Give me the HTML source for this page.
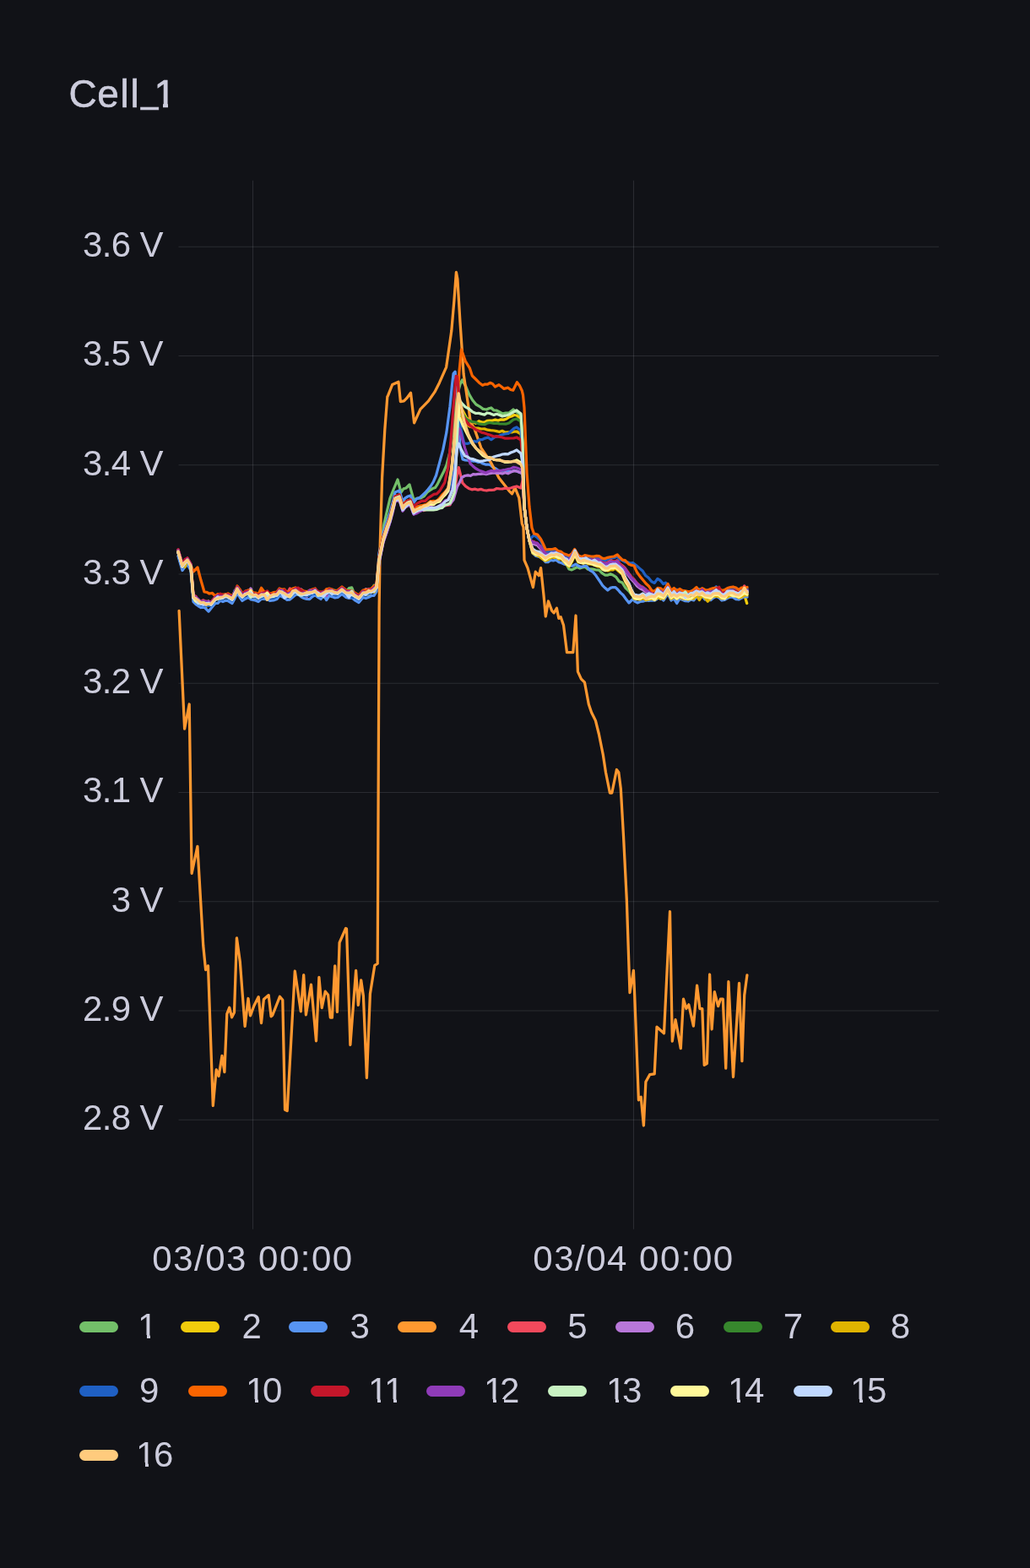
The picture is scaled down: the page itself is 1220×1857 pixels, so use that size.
<!DOCTYPE html>
<html><head><meta charset="utf-8"><title>Cell_1</title><style>
*{margin:0;padding:0;box-sizing:border-box}
html,body{width:1220px;height:1857px;background:#111217;overflow:hidden}
body{position:relative;font-family:"Liberation Sans",sans-serif;color:#ccccdc}
.t{position:absolute;white-space:nowrap;line-height:1}
#title{left:81px;top:88px;font-size:46px;width:200px;height:60px;-webkit-text-stroke:0.6px #ccccdc} #title span{position:absolute;top:0}
.yl{position:absolute;right:1027px;font-size:42px;letter-spacing:-0.6px;text-align:right;white-space:nowrap;line-height:1}
.xl{position:absolute;font-size:42px;letter-spacing:1.5px;white-space:nowrap;line-height:1;transform:translateX(-50%)}
.sw{position:absolute;width:46px;height:13px;border-radius:6.5px}
.ll{position:absolute;font-size:42px;line-height:1;white-space:nowrap}
svg{position:absolute;left:0;top:0}
.cv{position:absolute;height:4.8px;background:#111217}
</style></head>
<body>
<svg width="1220" height="1857" viewBox="0 0 1220 1857"><line x1="211.5" y1="292.25" x2="1112" y2="292.25" stroke="rgba(240,250,255,0.115)" stroke-width="1.15"/><line x1="211.5" y1="421.50" x2="1112" y2="421.50" stroke="rgba(240,250,255,0.115)" stroke-width="1.15"/><line x1="211.5" y1="550.75" x2="1112" y2="550.75" stroke="rgba(240,250,255,0.115)" stroke-width="1.15"/><line x1="211.5" y1="680.00" x2="1112" y2="680.00" stroke="rgba(240,250,255,0.115)" stroke-width="1.15"/><line x1="211.5" y1="809.25" x2="1112" y2="809.25" stroke="rgba(240,250,255,0.115)" stroke-width="1.15"/><line x1="211.5" y1="938.50" x2="1112" y2="938.50" stroke="rgba(240,250,255,0.115)" stroke-width="1.15"/><line x1="211.5" y1="1067.75" x2="1112" y2="1067.75" stroke="rgba(240,250,255,0.115)" stroke-width="1.15"/><line x1="211.5" y1="1197.00" x2="1112" y2="1197.00" stroke="rgba(240,250,255,0.115)" stroke-width="1.15"/><line x1="211.5" y1="1326.25" x2="1112" y2="1326.25" stroke="rgba(240,250,255,0.115)" stroke-width="1.15"/><line x1="299.5" y1="213.7" x2="299.5" y2="1455.7" stroke="rgba(240,250,255,0.115)" stroke-width="1.15"/><line x1="750.5" y1="213.7" x2="750.5" y2="1455.7" stroke="rgba(240,250,255,0.115)" stroke-width="1.15"/><g fill="none" stroke-width="3.25" stroke-linejoin="round" stroke-linecap="round">
<path stroke="#73BF69" d="M211.0 652.0 L216.0 669.0 L219.0 664.1 L222.0 662.0 L226.0 669.0 L229.0 706.0 L232.0 708.7 L235.0 712.6 L238.0 713.0 L241.0 713.1 L244.0 712.2 L247.0 713.2 L250.0 714.0 L255.0 708.0 L258.0 707.6 L261.0 705.6 L264.0 706.0 L267.0 704.2 L270.0 705.0 L275.0 708.0 L278.0 700.6 L281.0 696.0 L284.0 702.2 L287.0 705.0 L290.5 702.1 L294.0 701.0 L297.0 701.1 L300.0 704.0 L303.0 704.5 L306.0 706.0 L309.5 700.6 L313.0 703.0 L316.5 707.3 L320.0 705.0 L324.0 704.6 L328.0 703.0 L331.0 699.0 L334.0 699.5 L337.0 699.6 L340.0 704.0 L343.3 702.5 L346.7 701.4 L350.0 698.0 L353.3 702.0 L356.7 700.3 L360.0 702.0 L363.3 700.9 L366.7 701.1 L370.0 700.0 L373.3 700.4 L376.7 702.0 L380.0 703.0 L383.3 707.4 L386.7 700.1 L390.0 699.0 L393.3 701.4 L396.7 699.2 L400.0 701.0 L405.0 697.0 L410.0 701.0 L413.3 696.7 L416.7 695.9 L420.0 704.0 L425.0 707.0 L430.0 701.0 L433.3 700.5 L436.7 701.0 L440.0 699.0 L443.0 693.2 L446.0 694.0 L449.0 660.0 L452.0 640.0 L455.0 620.0 L458.5 605.0 L462.0 590.0 L466.0 580.0 L471.0 568.0 L475.0 583.0 L478.0 578.9 L481.0 578.0 L485.0 574.0 L490.0 592.0 L494.0 590.1 L498.0 590.0 L502.0 587.9 L506.0 583.0 L509.2 580.6 L512.4 578.6 L515.6 577.4 L518.2 573.4 L520.7 568.2 L525.8 558.0 L528.9 550.8 L533.0 535.0 L537.0 505.0 L541.0 470.0 L545.0 455.0 L547.5 450.0 L551.6 457.5 L555.7 467.2 L559.8 474.0 L563.9 479.0 L568.0 481.3 L572.1 484.4 L576.3 485.0 L579.0 483.8 L581.8 483.0 L585.0 486.0 L588.3 486.1 L591.7 488.0 L595.0 490.0 L599.0 489.1 L603.0 489.0 L608.0 485.0 L612.0 488.0 L617.0 492.0 L619.0 526.0 L621.0 600.0 L624.0 625.0 L627.0 640.0 L631.0 652.0 L634.8 654.9 L638.5 655.2 L642.2 657.1 L646.0 661.0 L649.5 659.8 L653.0 657.0 L656.0 656.2 L659.0 656.9 L662.0 658.6 L665.0 660.0 L668.5 665.7 L672.0 670.0 L674.0 674.0 L677.2 674.9 L680.4 673.2 L683.6 671.5 L686.8 673.0 L690.0 672.0 L693.2 671.3 L696.4 674.2 L699.6 673.8 L702.8 674.1 L706.0 675.0 L709.5 675.1 L713.0 678.6 L716.5 681.0 L720.0 681.0 L723.0 679.7 L726.0 681.0 L729.7 683.4 L733.3 688.5 L737.0 690.0 L741.0 696.3 L745.0 700.0 L748.0 704.1 L751.0 706.0 L754.5 706.7 L758.0 707.0 L761.5 707.1 L765.0 709.1 L768.5 706.3 L772.0 706.0 L775.5 706.1 L779.0 703.7 L782.5 704.7 L786.0 706.0 L791.0 698.0 L795.0 706.0 L798.3 702.4 L801.7 706.7 L805.0 704.0 L808.3 704.5 L811.7 704.8 L815.0 707.0 L818.3 708.9 L821.7 704.4 L825.0 702.0 L828.3 699.0 L831.7 702.0 L835.0 705.0 L838.3 703.0 L841.7 707.5 L845.0 703.0 L848.3 702.0 L851.7 702.0 L855.0 706.0 L858.3 706.9 L861.7 704.3 L865.0 702.0 L868.3 703.0 L871.7 703.5 L875.0 705.0 L878.3 703.6 L881.7 700.9 L885.0 702.0"/>
<path stroke="#F2CC0C" d="M211.0 653.0 L216.0 670.0 L219.0 668.6 L222.0 663.0 L226.0 670.0 L229.0 707.0 L232.0 708.3 L235.0 712.9 L238.0 714.0 L241.0 715.3 L244.0 718.8 L247.0 713.4 L250.0 715.0 L255.0 709.0 L258.0 705.6 L261.0 706.2 L264.0 707.0 L267.0 706.7 L270.0 706.0 L275.0 709.0 L278.0 703.8 L281.0 697.0 L284.0 702.7 L287.0 706.0 L290.5 704.2 L294.0 702.0 L297.0 701.4 L300.0 705.0 L303.0 710.2 L306.0 707.0 L309.5 703.6 L313.0 704.0 L316.5 704.1 L320.0 706.0 L324.0 706.3 L328.0 704.0 L331.0 700.0 L334.0 700.6 L337.0 702.7 L340.0 705.0 L343.3 704.0 L346.7 702.1 L350.0 699.0 L353.3 702.3 L356.7 703.3 L360.0 703.0 L363.3 703.4 L366.7 701.4 L370.0 701.0 L373.3 698.6 L376.7 702.0 L380.0 704.0 L383.3 706.5 L386.7 700.8 L390.0 700.0 L393.3 699.2 L396.7 703.3 L400.0 702.0 L405.0 698.0 L410.0 702.0 L413.3 706.5 L416.7 701.5 L420.0 705.0 L425.0 708.0 L430.0 702.0 L433.3 703.1 L436.7 704.8 L440.0 700.0 L443.0 699.4 L446.0 695.0 L449.0 661.0 L454.0 637.0 L458.0 624.3 L462.0 613.0 L465.0 602.5 L468.0 589.0 L473.0 587.0 L477.0 600.0 L480.0 597.2 L483.0 594.0 L486.0 593.0 L490.0 604.0 L494.0 602.2 L498.0 600.0 L502.0 599.3 L506.0 597.0 L509.7 594.0 L513.4 595.7 L517.0 593.2 L520.7 592.0 L524.1 586.8 L527.5 583.1 L530.9 580.0 L535.0 556.0 L538.5 520.0 L541.5 485.0 L543.5 472.0 L547.0 484.0 L552.0 494.0 L556.0 498.3 L560.0 500.0 L563.6 501.3 L567.2 498.7 L570.8 500.0 L573.9 500.2 L576.9 498.3 L580.0 498.0 L583.3 498.0 L586.7 497.1 L590.0 498.0 L593.3 496.9 L596.7 497.1 L600.0 496.0 L603.0 493.9 L606.0 493.0 L609.0 491.5 L612.0 492.0 L617.0 496.0 L619.0 528.0 L621.0 600.0 L624.0 625.0 L627.0 640.0 L631.0 654.0 L634.8 654.9 L638.5 656.5 L642.2 659.1 L646.0 663.0 L649.5 660.4 L653.0 659.0 L656.0 659.7 L659.0 660.0 L662.0 661.2 L665.0 661.0 L668.0 664.3 L671.0 667.5 L674.0 670.0 L677.5 663.3 L681.0 656.0 L685.0 665.0 L688.0 665.8 L691.0 665.9 L694.0 664.6 L697.0 667.0 L700.7 667.4 L704.3 668.3 L708.0 670.0 L711.0 669.6 L714.0 672.8 L717.0 674.4 L720.0 675.0 L723.0 674.2 L726.0 672.6 L729.0 672.0 L733.0 675.2 L737.0 679.0 L741.0 686.8 L745.0 695.0 L748.0 702.6 L751.0 708.0 L754.5 709.5 L758.0 709.0 L761.5 706.9 L765.0 711.2 L768.5 707.9 L772.0 708.0 L775.5 710.0 L779.0 704.9 L782.5 709.4 L786.0 708.0 L791.0 700.0 L795.0 708.0 L798.3 706.4 L801.7 706.7 L805.0 706.0 L808.3 707.5 L811.7 706.4 L815.0 709.0 L818.3 707.0 L821.7 706.1 L825.0 704.0 L828.3 704.7 L831.7 704.5 L835.0 707.0 L838.3 705.9 L841.7 706.3 L845.0 705.0 L848.3 702.5 L851.7 703.8 L855.0 708.0 L858.3 708.8 L861.7 704.8 L865.0 704.0 L868.3 704.3 L871.7 705.3 L875.0 707.0 L878.2 705.0 L881.5 704.0 L884.7 714.5"/>
<path stroke="#5794F2" d="M211.0 658.5 L216.0 675.5 L219.0 671.3 L222.0 668.5 L226.0 675.5 L229.0 712.5 L232.0 715.6 L235.0 717.8 L238.0 719.5 L241.0 718.2 L244.0 721.1 L247.0 724.1 L250.0 720.5 L255.0 714.5 L258.0 714.4 L261.0 711.2 L264.0 712.5 L267.0 711.2 L270.0 711.5 L275.0 714.5 L278.0 708.9 L281.0 702.5 L284.0 707.2 L287.0 711.5 L290.5 709.2 L294.0 707.5 L297.0 709.8 L300.0 710.5 L303.0 711.2 L306.0 712.5 L309.5 709.4 L313.0 709.5 L316.5 709.8 L320.0 711.5 L324.0 711.0 L328.0 709.5 L331.0 705.5 L334.0 706.5 L337.0 708.3 L340.0 710.5 L343.3 710.1 L346.7 707.3 L350.0 704.5 L353.3 704.0 L356.7 706.7 L360.0 708.5 L363.3 709.5 L366.7 709.6 L370.0 706.5 L373.3 704.7 L376.7 707.4 L380.0 709.5 L383.3 704.7 L386.7 710.6 L390.0 705.5 L393.3 706.6 L396.7 707.9 L400.0 707.5 L405.0 703.5 L410.0 707.5 L413.3 708.5 L416.7 707.8 L420.0 710.5 L425.0 713.5 L430.0 707.5 L433.3 708.5 L436.7 707.2 L440.0 705.5 L443.0 705.4 L446.0 700.5 L449.0 655.0 L454.0 631.0 L458.0 618.6 L462.0 607.0 L465.0 595.5 L468.0 583.0 L473.0 581.0 L477.0 594.0 L480.0 589.8 L483.0 588.0 L486.0 587.0 L490.0 595.0 L493.4 590.8 L496.8 589.6 L500.2 586.6 L503.6 583.5 L507.1 579.5 L510.5 575.3 L513.5 570.2 L516.6 563.0 L520.7 547.7 L524.8 532.4 L528.9 511.9 L533.0 481.2 L535.5 455.6 L537.1 442.3 L539.1 440.2 L541.0 460.0 L543.0 500.0 L545.0 530.0 L548.0 544.0 L551.0 544.9 L554.0 545.1 L557.0 545.8 L560.0 546.0 L563.0 546.0 L566.0 547.4 L569.0 547.4 L572.0 549.0 L575.0 550.0 L578.0 550.0 L581.0 550.7 L584.0 553.5 L587.0 554.7 L590.0 557.0 L593.3 557.8 L596.7 557.0 L600.0 558.0 L603.0 558.0 L606.0 558.6 L609.0 557.2 L612.0 558.0 L617.0 560.0 L619.0 560.0 L621.0 600.0 L624.0 625.0 L627.0 640.0 L631.0 655.0 L634.8 658.5 L638.6 659.4 L642.5 661.4 L646.3 665.7 L649.1 665.6 L652.0 663.4 L655.3 664.0 L658.7 663.2 L662.0 665.8 L665.3 666.8 L668.6 668.2 L672.0 669.0 L675.3 670.0 L678.6 670.0 L682.0 668.1 L685.3 670.3 L688.4 671.5 L691.4 670.5 L694.5 670.3 L698.3 675.1 L702.2 677.3 L706.0 681.8 L710.6 688.7 L713.7 693.4 L716.7 696.3 L719.8 699.0 L722.9 696.4 L725.9 695.5 L729.0 695.6 L732.0 698.5 L735.1 702.1 L738.1 704.8 L741.5 709.5 L745.0 714.0 L749.5 709.7 L752.2 712.4 L755.0 713.9 L758.3 712.4 L761.5 712.2 L764.8 711.0 L768.4 711.5 L772.0 711.0 L775.5 711.1 L779.0 708.8 L782.5 707.8 L786.0 711.0 L791.0 703.0 L795.0 711.0 L798.3 708.8 L801.7 714.5 L805.0 709.0 L808.3 710.2 L811.7 711.7 L815.0 712.0 L818.3 710.0 L821.7 710.9 L825.0 707.0 L828.3 707.3 L831.7 706.0 L835.0 710.0 L838.3 709.9 L841.7 710.7 L845.0 708.0 L848.3 706.2 L851.7 707.8 L855.0 711.0 L858.3 710.4 L861.7 708.3 L865.0 707.0 L868.3 707.4 L871.7 709.7 L875.0 710.0 L878.3 708.4 L881.7 706.3 L885.0 707.0"/>
<path stroke="#FF9830" d="M212.1 723.4 L218.6 863.2 L224.2 834.0 L227.1 1034.3 L233.9 1002.3 L240.7 1119.5 L243.6 1148.6 L246.5 1143.8 L252.3 1309.5 L256.2 1266.8 L259.1 1274.6 L263.0 1250.3 L265.9 1269.7 L268.8 1200.9 L271.7 1193.2 L274.6 1204.8 L277.5 1199.0 L280.4 1110.8 L284.3 1138.9 L290.1 1215.5 L294.0 1182.5 L296.5 1202.9 L300.8 1191.2 L306.2 1180.6 L309.5 1211.6 L312.4 1183.5 L318.2 1178.6 L321.1 1203.8 L322.7 1202.5 L331.4 1180.3 L334.8 1184.3 L337.5 1314.2 L340.2 1315.5 L349.3 1150.0 L356.3 1197.8 L359.7 1154.7 L362.4 1201.8 L368.5 1166.1 L374.5 1232.8 L377.9 1157.4 L381.2 1193.7 L385.3 1174.2 L388.6 1178.2 L391.3 1205.2 L393.4 1205.2 L396.7 1143.9 L399.4 1198.4 L402.1 1116.3 L409.5 1099.5 L410.5 1100.0 L414.9 1237.5 L421.6 1149.3 L424.3 1190.4 L427.7 1160.8 L430.4 1179.6 L434.4 1276.5 L438.4 1176.9 L443.8 1143.3 L447.2 1141.2 L448.3 900.0 L449.1 720.0 L450.2 646.0 L452.6 565.4 L455.8 508.9 L458.8 470.0 L459.9 467.7 L464.7 455.5 L472.0 452.3 L474.4 475.7 L478.5 474.9 L481.7 471.7 L486.5 465.2 L490.6 500.8 L497.9 484.6 L501.9 480.6 L507.5 474.9 L514.8 464.4 L520.5 453.2 L528.6 434.8 L530.7 420.5 L534.8 391.8 L537.9 356.0 L540.4 322.3 L541.9 330.5 L545.0 381.6 L547.1 412.3 L549.1 443.0 L552.2 463.5 L555.2 484.0 L557.3 500.0 L561.5 506.6 L569.8 530.3 L581.6 548.0 L591.0 565.9 L603.0 581.3 L606.5 584.8 L610.0 577.7 L614.8 589.6 L618.3 620.0 L620.0 624.4 L621.0 663.4 L625.0 672.6 L631.4 695.6 L634.3 677.2 L638.3 681.8 L640.6 672.6 L644.0 704.8 L646.3 730.0 L649.5 712.0 L653.7 723.4 L656.1 725.8 L659.4 720.2 L661.8 732.3 L664.2 730.7 L667.5 740.4 L671.5 772.7 L678.8 772.7 L682.0 729.0 L684.4 795.3 L688.4 804.1 L692.5 808.2 L697.3 834.0 L700.6 843.7 L705.4 853.4 L709.4 869.5 L714.3 893.8 L717.5 914.8 L722.4 939.0 L724.8 939.0 L730.4 911.5 L732.8 914.8 L735.3 934.1 L738.5 990.0 L742.3 1065.4 L746.0 1175.6 L750.4 1149.3 L751.7 1178.5 L756.4 1302.8 L759.2 1299.1 L762.4 1333.0 L764.9 1281.2 L769.6 1272.7 L775.2 1271.8 L778.0 1216.2 L786.5 1223.7 L793.5 1079.5 L796.3 1233.1 L800.1 1207.7 L806.3 1241.6 L809.5 1183.2 L812.9 1194.5 L815.8 1189.8 L821.4 1215.2 L825.6 1167.2 L828.9 1194.5 L831.8 1194.5 L834.2 1261.4 L837.4 1259.5 L840.6 1154.0 L843.1 1219.0 L846.3 1174.7 L850.6 1191.7 L853.4 1183.2 L856.3 1183.2 L859.7 1265.2 L862.9 1162.5 L868.5 1275.5 L875.5 1164.3 L878.9 1256.7 L881.7 1178.5 L884.9 1154.9"/>
<path stroke="#F2495C" d="M211.0 651.0 L216.0 668.0 L219.0 666.6 L222.0 661.0 L226.0 668.0 L229.0 705.0 L232.0 706.3 L235.0 711.4 L238.0 712.0 L241.0 710.8 L244.0 712.6 L247.0 712.5 L250.0 713.0 L255.0 707.0 L258.0 706.4 L261.0 704.5 L264.0 705.0 L267.0 703.9 L270.0 704.0 L275.0 707.0 L278.0 700.8 L281.0 695.0 L284.0 699.6 L287.0 704.0 L290.5 700.0 L294.0 700.0 L297.0 701.1 L300.0 703.0 L303.0 704.0 L306.0 705.0 L309.5 701.3 L313.0 702.0 L316.5 704.0 L320.0 704.0 L324.0 701.9 L328.0 702.0 L331.0 698.0 L334.0 699.3 L337.0 701.6 L340.0 703.0 L343.3 696.9 L346.7 699.5 L350.0 697.0 L353.3 699.5 L356.7 699.4 L360.0 701.0 L363.3 702.6 L366.7 699.0 L370.0 699.0 L373.3 698.5 L376.7 701.7 L380.0 702.0 L383.3 702.9 L386.7 697.8 L390.0 698.0 L393.3 699.5 L396.7 701.3 L400.0 700.0 L405.0 696.0 L410.0 700.0 L413.3 700.1 L416.7 701.2 L420.0 703.0 L425.0 706.0 L430.0 700.0 L433.3 698.9 L436.7 697.7 L440.0 698.0 L443.0 697.6 L446.0 693.0 L449.0 665.0 L454.0 641.0 L458.0 629.1 L462.0 617.0 L465.0 606.0 L468.0 593.0 L473.0 591.0 L477.0 604.0 L480.0 600.3 L483.0 598.0 L486.0 597.0 L490.0 608.0 L494.0 606.0 L498.0 604.0 L502.0 604.6 L506.0 603.0 L509.7 601.1 L513.4 602.7 L517.0 602.0 L520.7 600.0 L523.8 599.5 L526.9 598.9 L529.9 598.4 L533.0 598.0 L538.0 585.0 L541.0 565.0 L543.3 553.6 L547.9 572.0 L551.5 575.9 L555.2 578.4 L558.9 579.8 L562.5 579.1 L566.2 580.2 L569.6 579.4 L572.9 580.5 L576.3 581.0 L579.2 580.3 L582.1 580.3 L585.0 580.2 L588.3 578.5 L591.7 578.8 L595.0 579.0 L598.3 578.1 L601.7 578.7 L605.0 578.0 L608.5 576.9 L612.0 576.0 L617.0 578.0 L619.0 569.0 L621.0 600.0 L624.0 625.0 L627.0 640.0 L629.8 641.1 L632.5 641.5 L636.5 644.5 L640.6 647.3 L643.5 650.7 L646.3 655.5 L650.3 655.5 L654.3 653.6 L657.8 652.9 L661.2 655.0 L664.7 656.0 L667.8 657.8 L670.8 661.2 L673.9 662.6 L677.3 658.8 L680.7 652.4 L685.3 660.4 L689.0 662.4 L692.6 659.7 L696.3 661.3 L700.0 662.2 L703.3 662.5 L706.6 663.4 L709.9 663.1 L713.2 665.3 L716.5 667.6 L719.8 666.1 L723.6 663.5 L727.4 665.3 L731.2 663.8 L734.3 667.7 L737.3 670.0 L740.4 672.8 L745.0 679.5 L748.0 683.5 L751.0 686.3 L754.5 690.7 L758.0 693.7 L761.5 695.5 L765.0 698.1 L768.5 701.4 L772.0 702.5 L775.5 704.3 L779.0 700.7 L782.5 701.3 L786.0 702.5 L791.0 694.5 L795.0 702.5 L798.3 699.1 L801.7 701.2 L805.0 700.5 L808.3 701.6 L811.7 701.6 L815.0 703.5 L818.3 701.5 L821.7 702.2 L825.0 698.5 L828.3 699.7 L831.7 698.6 L835.0 701.5 L838.3 700.6 L841.7 700.2 L845.0 699.5 L848.3 697.0 L851.7 699.7 L855.0 702.5 L858.3 703.2 L861.7 700.8 L865.0 698.5 L868.3 698.2 L871.7 700.0 L875.0 701.5 L878.3 699.9 L881.7 693.9 L885.0 698.5"/>
<path stroke="#B877D9" d="M211.0 652.0 L216.0 669.0 L219.0 666.0 L222.0 662.0 L226.0 669.0 L229.0 706.0 L232.0 709.2 L235.0 712.4 L238.0 713.0 L241.0 714.8 L244.0 713.3 L247.0 712.1 L250.0 714.0 L255.0 708.0 L258.0 706.7 L261.0 704.4 L264.0 706.0 L267.0 706.0 L270.0 705.0 L275.0 708.0 L278.0 700.4 L281.0 696.0 L284.0 700.7 L287.0 705.0 L290.5 701.0 L294.0 701.0 L297.0 697.0 L300.0 704.0 L303.0 703.4 L306.0 706.0 L309.5 702.1 L313.0 703.0 L316.5 703.0 L320.0 705.0 L324.0 704.2 L328.0 703.0 L331.0 699.0 L334.0 699.1 L337.0 702.2 L340.0 704.0 L343.3 702.8 L346.7 701.5 L350.0 698.0 L353.3 699.6 L356.7 697.9 L360.0 702.0 L363.3 706.8 L366.7 699.7 L370.0 700.0 L373.3 699.8 L376.7 702.4 L380.0 703.0 L383.3 701.3 L386.7 705.6 L390.0 699.0 L393.3 701.0 L396.7 702.2 L400.0 701.0 L405.0 697.0 L410.0 701.0 L413.3 701.7 L416.7 702.4 L420.0 704.0 L425.0 707.0 L430.0 701.0 L433.3 697.7 L436.7 699.3 L440.0 699.0 L443.0 697.0 L446.0 694.0 L449.0 666.0 L454.0 642.0 L458.0 631.0 L462.0 618.0 L465.0 605.4 L468.0 594.0 L473.0 592.0 L477.0 605.0 L480.0 600.9 L483.0 599.0 L486.0 598.0 L490.0 609.0 L494.0 607.0 L498.0 605.0 L502.0 603.6 L506.0 602.0 L509.7 599.6 L513.4 601.6 L517.0 600.8 L520.7 600.0 L523.8 599.5 L526.9 598.9 L529.9 597.4 L533.0 597.0 L537.0 592.0 L541.5 576.5 L544.2 571.7 L547.0 565.5 L550.6 563.5 L554.3 562.8 L557.4 563.5 L560.4 561.6 L563.5 561.9 L566.5 561.4 L569.6 561.4 L572.6 561.0 L575.7 561.7 L578.8 560.9 L581.9 560.3 L585.0 560.0 L588.3 560.4 L591.7 560.1 L595.0 561.0 L598.3 559.8 L601.7 560.8 L605.0 559.0 L608.5 557.7 L612.0 558.0 L617.0 560.0 L619.0 560.0 L621.0 600.0 L624.0 625.0 L627.0 640.0 L629.8 643.0 L632.5 644.5 L636.5 645.8 L640.6 650.3 L643.5 653.9 L646.3 658.5 L650.3 657.7 L654.3 656.6 L657.8 655.4 L661.2 657.0 L664.7 659.0 L667.8 661.6 L670.8 662.6 L673.9 665.6 L677.3 660.6 L680.7 655.4 L685.3 663.4 L689.0 663.4 L692.6 664.8 L696.3 665.1 L700.0 665.2 L703.3 665.3 L706.6 664.7 L709.9 666.9 L713.2 669.4 L716.5 668.7 L719.8 669.1 L723.6 667.5 L727.4 666.6 L731.2 666.8 L734.3 670.9 L737.3 673.8 L740.4 675.8 L745.0 682.5 L748.0 686.1 L751.0 689.3 L754.5 693.9 L758.0 696.7 L761.5 698.5 L765.0 701.1 L768.5 702.6 L772.0 705.5 L775.5 706.2 L779.0 704.2 L782.5 702.0 L786.0 705.5 L791.0 697.5 L795.0 705.5 L798.3 704.1 L801.7 705.1 L805.0 703.5 L808.3 706.3 L811.7 701.6 L815.0 706.5 L818.3 708.3 L821.7 705.3 L825.0 701.5 L828.3 703.4 L831.7 702.6 L835.0 704.5 L838.3 702.3 L841.7 703.4 L845.0 702.5 L848.3 700.1 L851.7 698.0 L855.0 705.5 L858.3 705.0 L861.7 702.8 L865.0 701.5 L868.3 701.5 L871.7 704.3 L875.0 704.5 L878.3 701.3 L881.7 699.9 L885.0 701.5"/>
<path stroke="#37872D" d="M211.0 653.0 L216.0 670.0 L219.0 666.3 L222.0 663.0 L226.0 670.0 L229.0 707.0 L232.0 710.4 L235.0 711.1 L238.0 714.0 L241.0 714.2 L244.0 713.3 L247.0 714.0 L250.0 715.0 L255.0 709.0 L258.0 706.2 L261.0 707.9 L264.0 707.0 L267.0 706.8 L270.0 706.0 L275.0 709.0 L278.0 702.0 L281.0 697.0 L284.0 702.9 L287.0 706.0 L290.5 703.3 L294.0 702.0 L297.0 702.2 L300.0 705.0 L303.0 704.6 L306.0 707.0 L309.5 703.7 L313.0 704.0 L316.5 706.4 L320.0 706.0 L324.0 705.7 L328.0 704.0 L331.0 700.0 L334.0 702.9 L337.0 701.9 L340.0 705.0 L343.3 703.6 L346.7 702.6 L350.0 699.0 L353.3 702.9 L356.7 702.7 L360.0 703.0 L363.3 704.2 L366.7 702.9 L370.0 701.0 L373.3 699.6 L376.7 703.7 L380.0 704.0 L383.3 703.9 L386.7 701.8 L390.0 700.0 L393.3 702.2 L396.7 700.5 L400.0 702.0 L405.0 698.0 L410.0 702.0 L413.3 702.6 L416.7 703.5 L420.0 705.0 L425.0 708.0 L430.0 702.0 L433.3 701.6 L436.7 702.0 L440.0 700.0 L443.0 697.2 L446.0 695.0 L449.0 660.0 L454.0 636.0 L458.0 624.6 L462.0 612.0 L465.0 601.4 L468.0 588.0 L473.0 586.0 L477.0 599.0 L480.0 595.0 L483.0 593.0 L486.0 592.0 L490.0 603.0 L494.0 600.9 L498.0 599.0 L502.0 599.8 L506.0 598.0 L509.7 596.3 L513.4 596.5 L517.0 595.2 L520.7 593.0 L524.1 589.6 L527.5 584.0 L530.9 581.0 L535.0 558.0 L538.5 522.0 L541.5 487.0 L543.5 474.0 L547.0 488.0 L552.0 496.0 L555.9 498.3 L559.8 499.6 L563.5 500.0 L567.1 501.9 L570.8 502.3 L573.9 502.7 L576.9 501.2 L580.0 500.5 L585.0 501.4 L588.3 501.2 L591.7 501.8 L595.0 502.0 L599.0 502.2 L603.0 501.0 L608.0 497.0 L612.0 496.0 L617.0 499.0 L619.0 529.5 L621.0 600.0 L624.0 625.0 L627.0 640.0 L631.0 653.0 L634.8 656.1 L638.5 655.6 L642.2 659.5 L646.0 662.0 L649.5 659.0 L653.0 658.0 L656.0 658.8 L659.0 657.4 L662.0 659.4 L665.0 660.0 L668.0 664.4 L671.0 665.2 L674.0 669.0 L677.5 662.2 L681.0 655.0 L685.0 664.0 L688.0 666.3 L691.0 664.6 L694.0 665.7 L697.0 666.0 L700.7 667.9 L704.3 666.3 L708.0 669.0 L711.0 668.7 L714.0 673.0 L717.0 672.7 L720.0 674.0 L723.0 673.4 L726.0 672.3 L729.0 671.0 L733.0 675.5 L737.0 678.0 L741.0 686.9 L745.0 694.0 L748.0 701.8 L751.0 707.0 L754.5 706.8 L758.0 708.0 L761.5 705.6 L765.0 708.5 L768.5 705.8 L772.0 707.0 L775.5 708.2 L779.0 704.3 L782.5 704.1 L786.0 707.0 L791.0 699.0 L795.0 707.0 L798.3 703.6 L801.7 708.0 L805.0 705.0 L808.3 706.5 L811.7 707.9 L815.0 708.0 L818.3 706.9 L821.7 702.6 L825.0 703.0 L828.3 704.6 L831.7 702.2 L835.0 706.0 L838.3 707.9 L841.7 706.4 L845.0 704.0 L848.3 701.4 L851.7 705.5 L855.0 707.0 L858.3 706.8 L861.7 701.4 L865.0 703.0 L868.3 704.1 L871.7 705.7 L875.0 706.0 L878.3 703.0 L881.7 703.2 L885.0 703.0"/>
<path stroke="#E0B400" d="M211.0 654.0 L216.0 671.0 L219.0 671.6 L222.0 664.0 L226.0 671.0 L229.0 708.0 L232.0 711.6 L235.0 713.7 L238.0 715.0 L241.0 714.5 L244.0 715.4 L247.0 711.9 L250.0 716.0 L255.0 710.0 L258.0 707.2 L261.0 707.2 L264.0 708.0 L267.0 706.6 L270.0 707.0 L275.0 710.0 L278.0 704.4 L281.0 698.0 L284.0 704.3 L287.0 707.0 L290.5 703.3 L294.0 703.0 L297.0 703.3 L300.0 706.0 L303.0 707.6 L306.0 708.0 L309.5 705.9 L313.0 705.0 L316.5 707.8 L320.0 707.0 L324.0 705.5 L328.0 705.0 L331.0 701.0 L334.0 702.5 L337.0 704.5 L340.0 706.0 L343.3 704.7 L346.7 701.7 L350.0 700.0 L353.3 702.9 L356.7 704.0 L360.0 704.0 L363.3 702.7 L366.7 701.4 L370.0 702.0 L373.3 700.4 L376.7 702.9 L380.0 705.0 L383.3 704.3 L386.7 703.6 L390.0 701.0 L393.3 703.1 L396.7 702.6 L400.0 703.0 L405.0 699.0 L410.0 703.0 L413.3 699.9 L416.7 702.4 L420.0 706.0 L425.0 709.0 L430.0 703.0 L433.3 702.0 L436.7 703.2 L440.0 701.0 L443.0 701.1 L446.0 696.0 L449.0 662.0 L454.0 638.0 L458.0 625.4 L462.0 614.0 L465.0 603.6 L468.0 590.0 L473.0 588.0 L477.0 601.0 L480.0 596.7 L483.0 595.0 L486.0 594.0 L490.0 605.0 L494.0 603.4 L498.0 601.0 L502.0 600.8 L506.0 598.0 L509.7 595.7 L513.4 596.6 L517.0 594.3 L520.7 593.0 L524.1 588.8 L527.5 585.5 L530.9 582.0 L535.0 560.0 L538.5 525.0 L541.5 490.0 L543.5 478.0 L548.0 496.0 L552.0 501.2 L556.0 505.0 L559.5 505.9 L563.0 507.0 L566.5 507.0 L570.0 508.0 L573.8 507.9 L577.5 509.2 L581.2 509.7 L585.0 510.0 L588.2 510.6 L591.5 511.5 L594.8 510.3 L598.0 512.0 L602.0 511.9 L606.0 512.0 L609.0 511.2 L612.0 511.0 L617.0 514.0 L619.0 537.0 L621.0 600.0 L624.0 625.0 L627.0 640.0 L631.0 655.0 L634.8 657.2 L638.5 658.8 L642.2 661.8 L646.0 664.0 L649.5 662.7 L653.0 660.0 L656.0 660.4 L659.0 659.5 L662.0 662.2 L665.0 662.0 L668.0 665.1 L671.0 668.5 L674.0 671.0 L677.5 665.2 L681.0 657.0 L685.0 666.0 L688.0 666.2 L691.0 667.1 L694.0 665.5 L697.0 668.0 L700.7 668.2 L704.3 669.2 L708.0 671.0 L711.0 671.5 L714.0 674.5 L717.0 675.3 L720.0 676.0 L723.0 675.0 L726.0 674.8 L729.0 673.0 L733.0 676.7 L737.0 680.0 L741.0 689.6 L745.0 696.0 L748.0 702.2 L751.0 709.0 L754.5 709.4 L758.0 710.0 L761.5 708.4 L765.0 710.5 L768.5 709.9 L772.0 709.0 L775.5 710.5 L779.0 707.8 L782.5 708.1 L786.0 709.0 L791.0 701.0 L795.0 709.0 L798.3 707.2 L801.7 709.1 L805.0 707.0 L808.3 709.0 L811.7 709.0 L815.0 710.0 L818.3 708.9 L821.7 709.0 L825.0 705.0 L828.3 710.5 L831.7 705.2 L835.0 708.0 L838.3 712.2 L841.7 708.6 L845.0 706.0 L848.3 706.1 L851.7 706.4 L855.0 709.0 L858.3 708.3 L861.7 707.0 L865.0 705.0 L868.3 705.2 L871.7 705.9 L875.0 708.0 L878.3 707.2 L881.7 704.8 L885.0 705.0"/>
<path stroke="#1F60C4" d="M211.0 655.0 L216.0 672.0 L219.0 666.9 L222.0 665.0 L226.0 672.0 L229.0 709.0 L232.0 711.3 L235.0 713.9 L238.0 716.0 L241.0 716.8 L244.0 717.1 L247.0 717.3 L250.0 717.0 L255.0 711.0 L258.0 708.9 L261.0 710.0 L264.0 709.0 L267.0 706.1 L270.0 708.0 L275.0 711.0 L278.0 699.1 L281.0 699.0 L284.0 703.0 L287.0 708.0 L290.5 704.8 L294.0 704.0 L297.0 705.8 L300.0 707.0 L303.0 707.6 L306.0 709.0 L309.5 707.7 L313.0 706.0 L316.5 707.1 L320.0 708.0 L324.0 708.3 L328.0 706.0 L331.0 702.0 L334.0 702.0 L337.0 704.8 L340.0 707.0 L343.3 706.9 L346.7 704.1 L350.0 701.0 L353.3 702.6 L356.7 702.8 L360.0 705.0 L363.3 705.8 L366.7 705.0 L370.0 703.0 L373.3 703.3 L376.7 704.5 L380.0 706.0 L383.3 705.0 L386.7 703.9 L390.0 702.0 L393.3 702.9 L396.7 704.7 L400.0 704.0 L405.0 700.0 L410.0 704.0 L413.3 703.8 L416.7 707.8 L420.0 707.0 L425.0 710.0 L430.0 704.0 L433.3 704.8 L436.7 703.0 L440.0 702.0 L443.0 699.6 L446.0 697.0 L449.0 661.0 L454.0 637.0 L458.0 625.6 L462.0 613.0 L465.0 602.2 L468.0 589.0 L473.0 587.0 L477.0 600.0 L480.0 595.5 L483.0 594.0 L486.0 593.0 L490.0 604.0 L494.0 602.1 L498.0 600.0 L502.0 600.2 L506.0 599.0 L509.7 596.8 L513.4 595.8 L517.0 594.3 L520.7 592.0 L524.1 587.5 L527.5 585.7 L530.9 582.0 L533.5 574.0 L536.0 565.0 L539.0 530.0 L541.5 490.0 L542.5 482.0 L546.0 508.0 L549.7 525.2 L553.7 525.4 L557.6 523.9 L561.6 522.5 L564.7 523.1 L567.7 520.7 L570.8 520.7 L574.4 519.1 L578.0 518.0 L581.8 520.7 L585.9 517.6 L590.0 517.0 L594.0 515.0 L598.0 514.0 L602.0 513.4 L606.0 510.0 L609.0 507.3 L612.0 506.0 L617.0 510.0 L619.0 535.0 L621.0 600.0 L624.0 625.0 L627.0 640.0 L629.8 636.2 L632.5 634.0 L636.5 636.7 L640.6 640.5 L643.5 647.2 L646.3 653.0 L650.3 653.5 L654.3 652.5 L657.8 652.6 L661.2 653.3 L664.7 655.4 L667.8 656.5 L670.8 658.4 L673.9 660.0 L677.3 656.8 L680.7 652.5 L685.3 660.0 L689.0 661.2 L692.6 659.5 L696.3 660.1 L700.0 661.0 L703.3 660.7 L706.6 661.7 L709.9 660.5 L713.2 662.6 L716.5 663.8 L719.8 662.3 L723.6 660.5 L727.4 660.6 L731.2 658.9 L734.3 662.8 L737.3 663.8 L740.4 665.7 L743.4 665.9 L746.5 667.0 L749.5 666.5 L753.7 669.7 L757.9 673.4 L761.3 676.3 L764.8 681.8 L768.3 684.4 L771.8 688.8 L775.3 690.4 L778.8 685.4 L782.2 687.5 L785.7 691.6 L788.4 690.1 L791.0 693.5 L795.0 701.5 L798.3 700.2 L801.7 698.2 L805.0 699.5 L808.3 703.9 L811.7 702.4 L815.0 702.5 L818.3 700.2 L821.7 699.5 L825.0 697.5 L828.3 697.6 L831.7 698.1 L835.0 700.5 L838.3 699.9 L841.7 701.5 L845.0 698.5 L848.3 694.8 L851.7 699.4 L855.0 701.5 L858.3 701.3 L861.7 697.6 L865.0 697.5 L868.3 698.2 L871.7 699.3 L875.0 700.5 L878.3 699.2 L881.7 697.9 L885.0 697.5"/>
<path stroke="#FA6400" d="M211.0 655.0 L216.0 668.0 L219.0 665.1 L222.0 662.0 L225.5 668.0 L229.0 677.0 L234.0 672.0 L238.0 687.3 L242.0 701.0 L245.0 701.3 L248.0 703.0 L251.5 702.4 L255.0 706.0 L258.0 703.6 L261.0 704.5 L264.0 704.0 L267.0 704.4 L270.0 703.0 L275.0 706.0 L278.0 702.0 L281.0 694.0 L284.0 697.9 L287.0 703.0 L290.5 700.8 L294.0 699.0 L297.0 699.1 L300.0 702.0 L303.0 702.2 L306.0 704.0 L309.5 696.3 L313.0 701.0 L316.5 701.9 L320.0 703.0 L324.0 701.7 L328.0 701.0 L331.0 697.0 L334.0 698.2 L337.0 697.9 L340.0 702.0 L343.3 700.3 L346.7 697.0 L350.0 696.0 L353.3 697.6 L356.7 698.5 L360.0 700.0 L363.3 700.7 L366.7 699.6 L370.0 698.0 L373.3 697.0 L376.7 702.1 L380.0 701.0 L383.3 701.3 L386.7 697.8 L390.0 697.0 L393.3 698.0 L396.7 700.0 L400.0 699.0 L405.0 695.0 L410.0 699.0 L413.3 700.5 L416.7 699.5 L420.0 702.0 L425.0 705.0 L430.0 699.0 L433.3 698.3 L436.7 698.6 L440.0 697.0 L443.0 694.1 L446.0 692.0 L449.0 660.0 L454.0 636.0 L458.0 623.4 L462.0 612.0 L465.0 600.3 L468.0 588.0 L473.0 586.0 L477.0 599.0 L480.0 594.6 L483.0 593.0 L486.0 592.0 L490.0 603.0 L494.0 600.1 L498.0 599.0 L502.0 598.1 L506.0 597.0 L509.7 593.9 L513.4 593.3 L517.0 593.6 L520.7 590.0 L524.1 585.6 L527.5 582.3 L530.9 578.0 L535.0 555.0 L538.5 520.0 L541.5 480.0 L544.0 440.0 L546.5 414.0 L551.2 427.6 L556.3 435.8 L559.3 445.0 L563.4 449.0 L567.5 453.2 L571.6 456.3 L574.5 455.0 L577.5 455.1 L580.4 453.3 L583.4 454.5 L586.4 458.0 L591.0 455.7 L594.0 458.0 L597.0 460.4 L601.8 459.2 L604.8 461.5 L607.7 462.2 L612.4 452.7 L615.3 456.4 L618.3 462.8 L619.5 467.8 L621.0 483.0 L624.0 560.0 L627.0 600.0 L630.0 625.0 L632.5 632.0 L636.5 633.1 L640.6 638.5 L643.5 644.5 L646.3 651.0 L650.3 650.6 L654.3 650.5 L657.8 649.6 L661.2 652.7 L664.7 653.4 L667.8 655.9 L670.8 656.8 L673.9 658.0 L677.3 655.8 L680.7 650.5 L685.3 658.0 L689.0 659.6 L692.6 657.7 L696.3 658.3 L700.0 659.0 L703.3 659.1 L706.6 658.4 L709.9 658.7 L713.2 661.1 L716.5 661.6 L719.8 660.3 L723.6 659.5 L727.4 659.0 L731.2 656.9 L734.3 660.3 L737.3 663.1 L740.4 663.7 L745.0 668.3 L748.0 669.4 L751.0 670.0 L754.5 677.8 L758.0 682.6 L761.5 686.8 L765.0 691.0 L768.5 694.2 L772.0 699.5 L775.5 700.1 L779.0 696.4 L782.5 696.9 L786.0 699.5 L791.0 691.5 L795.0 699.5 L798.3 696.5 L801.7 699.6 L805.0 697.5 L808.3 699.4 L811.7 699.9 L815.0 700.5 L818.3 700.6 L821.7 698.5 L825.0 695.5 L828.3 700.0 L831.7 696.6 L835.0 698.5 L838.3 698.9 L841.7 697.5 L845.0 696.5 L848.3 696.0 L851.7 696.8 L855.0 699.5 L858.3 698.7 L861.7 696.5 L865.0 695.5 L868.3 695.0 L871.7 696.0 L875.0 698.5 L878.3 696.0 L881.7 696.2 L885.0 695.5"/>
<path stroke="#C4162A" d="M211.0 651.0 L216.0 668.0 L219.0 662.5 L222.0 661.0 L226.0 668.0 L229.0 705.0 L232.0 708.6 L235.0 711.4 L238.0 712.0 L241.0 713.1 L244.0 712.0 L247.0 713.7 L250.0 713.0 L255.0 707.0 L258.0 705.3 L261.0 703.1 L264.0 705.0 L267.0 704.9 L270.0 704.0 L275.0 707.0 L278.0 702.1 L281.0 695.0 L284.0 699.7 L287.0 704.0 L290.5 700.4 L294.0 700.0 L297.0 700.8 L300.0 703.0 L303.0 703.4 L306.0 705.0 L309.5 702.9 L313.0 702.0 L316.5 699.9 L320.0 704.0 L324.0 704.2 L328.0 702.0 L331.0 698.0 L334.0 702.2 L337.0 698.6 L340.0 703.0 L343.3 702.2 L346.7 699.2 L350.0 697.0 L353.3 696.2 L356.7 699.2 L360.0 701.0 L363.3 702.0 L366.7 701.1 L370.0 699.0 L373.3 697.8 L376.7 700.4 L380.0 702.0 L383.3 700.1 L386.7 700.6 L390.0 698.0 L393.3 699.8 L396.7 700.9 L400.0 700.0 L405.0 696.0 L410.0 700.0 L413.3 699.9 L416.7 702.0 L420.0 703.0 L425.0 706.0 L430.0 700.0 L433.3 701.5 L436.7 698.8 L440.0 698.0 L443.0 696.1 L446.0 693.0 L449.0 660.0 L454.0 636.0 L458.0 625.0 L462.0 612.0 L465.0 600.7 L468.0 588.0 L473.0 586.0 L477.0 599.0 L480.0 596.0 L483.0 593.0 L486.0 592.0 L490.0 600.0 L493.4 596.7 L496.8 594.8 L500.2 593.1 L503.7 593.3 L507.1 589.8 L510.5 587.6 L513.9 585.4 L517.3 584.8 L520.7 581.5 L523.8 576.3 L526.8 571.2 L530.9 552.8 L534.0 522.1 L537.1 481.2 L540.2 445.4 L541.5 446.0 L544.0 470.0 L548.8 494.0 L552.0 498.5 L555.2 503.0 L559.4 505.9 L563.5 508.8 L567.1 510.4 L570.8 512.4 L573.9 512.9 L576.9 514.1 L580.0 515.0 L585.0 517.0 L588.3 516.6 L591.7 517.4 L595.0 518.0 L598.3 519.1 L601.7 519.1 L605.0 519.0 L608.5 518.8 L612.0 518.0 L617.0 521.0 L619.0 540.5 L621.0 600.0 L624.0 625.0 L627.0 640.0 L629.8 640.6 L632.5 642.5 L636.5 643.2 L640.6 648.3 L643.5 652.0 L646.3 656.5 L650.3 656.5 L654.3 654.6 L657.8 655.7 L661.2 656.9 L664.7 657.0 L667.8 659.3 L670.8 662.4 L673.9 663.6 L677.3 658.5 L680.7 653.4 L685.3 661.4 L689.0 663.3 L692.6 660.8 L696.3 663.6 L700.0 663.2 L703.3 662.6 L706.6 664.3 L709.9 665.2 L713.2 666.0 L716.5 667.8 L719.8 667.1 L723.6 665.1 L727.4 664.7 L731.2 664.8 L734.3 668.3 L737.3 671.3 L740.4 673.8 L745.0 680.5 L748.0 683.7 L751.0 687.3 L754.5 690.7 L758.0 694.7 L761.5 695.3 L765.0 699.1 L768.5 699.8 L772.0 703.5 L775.5 704.2 L779.0 700.8 L782.5 700.5 L786.0 703.5 L791.0 695.5 L795.0 703.5 L798.3 701.0 L801.7 704.0 L805.0 701.5 L808.3 703.8 L811.7 704.6 L815.0 704.5 L818.3 702.9 L821.7 702.7 L825.0 699.5 L828.3 701.2 L831.7 698.2 L835.0 702.5 L838.3 701.2 L841.7 702.9 L845.0 700.5 L848.3 697.9 L851.7 695.3 L855.0 703.5 L858.3 701.4 L861.7 701.3 L865.0 699.5 L868.3 699.2 L871.7 700.1 L875.0 702.5 L878.3 704.9 L881.7 699.7 L885.0 699.5"/>
<path stroke="#8F3BB8" d="M211.0 652.0 L216.0 669.0 L219.0 665.7 L222.0 662.0 L226.0 669.0 L229.0 706.0 L232.0 707.7 L235.0 709.6 L238.0 713.0 L241.0 711.9 L244.0 712.9 L247.0 712.2 L250.0 714.0 L255.0 708.0 L258.0 705.5 L261.0 706.6 L264.0 706.0 L267.0 705.4 L270.0 705.0 L275.0 708.0 L278.0 702.3 L281.0 696.0 L284.0 700.0 L287.0 705.0 L290.5 702.6 L294.0 701.0 L297.0 700.8 L300.0 704.0 L303.0 704.3 L306.0 706.0 L309.5 703.5 L313.0 703.0 L316.5 705.9 L320.0 705.0 L324.0 705.2 L328.0 703.0 L331.0 699.0 L334.0 699.2 L337.0 702.1 L340.0 704.0 L343.3 702.3 L346.7 700.3 L350.0 698.0 L353.3 701.3 L356.7 703.2 L360.0 702.0 L363.3 703.0 L366.7 699.2 L370.0 700.0 L373.3 698.5 L376.7 702.7 L380.0 703.0 L383.3 701.3 L386.7 704.8 L390.0 699.0 L393.3 699.0 L396.7 701.4 L400.0 701.0 L405.0 697.0 L410.0 701.0 L413.3 700.6 L416.7 700.1 L420.0 704.0 L425.0 707.0 L430.0 701.0 L433.3 702.2 L436.7 699.3 L440.0 699.0 L443.0 696.4 L446.0 694.0 L449.0 666.0 L454.0 642.0 L458.0 630.2 L462.0 618.0 L465.0 607.7 L468.0 594.0 L473.0 592.0 L477.0 605.0 L480.0 600.5 L483.0 599.0 L486.0 598.0 L490.0 609.0 L494.0 607.7 L498.0 605.0 L502.0 602.6 L506.0 602.0 L509.7 601.3 L513.4 602.3 L517.0 601.5 L520.7 598.9 L524.1 596.1 L527.5 592.6 L530.9 591.7 L533.5 585.1 L536.0 578.4 L539.1 558.0 L541.2 530.0 L543.0 512.0 L544.2 507.8 L547.4 519.3 L550.6 530.7 L553.8 540.3 L557.0 549.0 L560.1 551.9 L563.1 554.5 L566.2 556.4 L569.3 557.9 L572.3 558.9 L575.4 560.0 L578.6 558.6 L581.8 557.4 L585.0 558.2 L588.3 557.4 L591.7 557.7 L595.0 557.0 L598.3 556.5 L601.7 555.5 L605.0 555.0 L608.5 553.3 L612.0 554.0 L617.0 556.0 L619.0 558.0 L621.0 600.0 L624.0 625.0 L627.0 640.0 L629.8 640.9 L632.5 642.5 L636.5 643.3 L640.6 648.3 L643.5 651.8 L646.3 656.5 L650.3 656.6 L654.3 654.6 L657.8 654.3 L661.2 655.5 L664.7 657.0 L667.8 659.8 L670.8 661.9 L673.9 663.6 L677.3 658.0 L680.7 653.4 L685.3 661.4 L689.0 662.1 L692.6 661.2 L696.3 663.4 L700.0 663.2 L703.3 663.1 L706.6 662.5 L709.9 663.1 L713.2 666.8 L716.5 667.6 L719.8 667.1 L723.6 665.0 L727.4 665.9 L731.2 664.8 L734.3 669.9 L737.3 671.9 L740.4 673.8 L745.0 680.5 L748.0 684.7 L751.0 687.3 L754.5 691.2 L758.0 694.7 L761.5 695.8 L765.0 699.1 L768.5 701.3 L772.0 703.5 L775.5 704.6 L779.0 699.8 L782.5 700.0 L786.0 703.5 L791.0 695.5 L795.0 703.5 L798.3 701.4 L801.7 703.2 L805.0 701.5 L808.3 708.2 L811.7 702.7 L815.0 704.5 L818.3 703.9 L821.7 701.5 L825.0 699.5 L828.3 704.2 L831.7 698.4 L835.0 702.5 L838.3 700.9 L841.7 701.4 L845.0 700.5 L848.3 699.4 L851.7 700.2 L855.0 703.5 L858.3 704.5 L861.7 700.0 L865.0 699.5 L868.3 700.3 L871.7 704.3 L875.0 702.5 L878.3 701.4 L881.7 697.9 L885.0 699.5"/>
<path stroke="#C8F2C2" d="M211.0 654.0 L216.0 671.0 L219.0 666.1 L222.0 664.0 L226.0 671.0 L229.0 708.0 L232.0 711.9 L235.0 714.6 L238.0 715.0 L241.0 715.1 L244.0 714.5 L247.0 715.4 L250.0 716.0 L255.0 710.0 L258.0 709.6 L261.0 708.3 L264.0 708.0 L267.0 705.7 L270.0 707.0 L275.0 710.0 L278.0 703.2 L281.0 698.0 L284.0 701.7 L287.0 707.0 L290.5 703.7 L294.0 703.0 L297.0 707.3 L300.0 706.0 L303.0 705.7 L306.0 708.0 L309.5 706.5 L313.0 705.0 L316.5 705.0 L320.0 707.0 L324.0 705.8 L328.0 705.0 L331.0 701.0 L334.0 700.8 L337.0 703.8 L340.0 706.0 L343.3 704.6 L346.7 702.1 L350.0 700.0 L353.3 704.0 L356.7 705.1 L360.0 704.0 L363.3 703.2 L366.7 702.9 L370.0 702.0 L373.3 699.4 L376.7 705.4 L380.0 705.0 L383.3 705.6 L386.7 702.5 L390.0 701.0 L393.3 703.1 L396.7 701.6 L400.0 703.0 L405.0 699.0 L410.0 703.0 L413.3 704.6 L416.7 700.1 L420.0 706.0 L425.0 709.0 L430.0 703.0 L433.3 703.3 L436.7 701.3 L440.0 701.0 L443.0 698.6 L446.0 696.0 L449.0 662.0 L454.0 638.0 L458.0 625.4 L462.0 614.0 L465.0 602.1 L468.0 590.0 L473.0 588.0 L477.0 601.0 L480.0 597.6 L483.0 595.0 L486.0 594.0 L490.0 605.0 L494.0 603.3 L498.0 601.0 L502.0 603.9 L506.0 604.0 L509.7 603.8 L513.4 603.8 L517.0 603.5 L520.7 602.0 L523.8 601.5 L526.9 597.9 L529.9 597.5 L533.0 595.8 L535.5 590.2 L538.1 583.5 L540.5 540.0 L542.5 495.0 L544.0 474.0 L547.0 477.6 L551.1 481.9 L555.2 484.0 L559.4 487.6 L563.5 489.5 L567.1 489.4 L570.8 490.4 L573.9 491.1 L576.9 489.0 L580.0 489.5 L585.0 491.4 L588.3 490.3 L591.7 491.5 L595.0 493.0 L599.0 492.2 L603.0 491.0 L608.0 488.0 L612.0 486.0 L617.0 490.0 L619.0 525.0 L621.0 600.0 L624.0 625.0 L627.0 640.0 L631.0 651.0 L634.8 652.7 L638.5 653.8 L642.2 657.9 L646.0 660.0 L649.5 658.3 L653.0 656.0 L656.0 656.7 L659.0 655.8 L662.0 656.2 L665.0 658.0 L668.0 662.0 L671.0 663.9 L674.0 667.0 L677.5 660.4 L681.0 653.0 L685.0 662.0 L688.0 664.0 L691.0 663.3 L694.0 661.5 L697.0 664.0 L700.7 664.9 L704.3 664.1 L708.0 667.0 L711.0 667.4 L714.0 671.1 L717.0 672.6 L720.0 672.0 L723.0 670.9 L726.0 669.0 L729.0 669.0 L733.0 673.7 L737.0 676.0 L741.0 685.4 L745.0 692.0 L748.0 698.8 L751.0 705.0 L754.5 706.3 L758.0 706.0 L761.5 704.6 L765.0 708.2 L768.5 705.3 L772.0 705.0 L775.5 705.9 L779.0 701.6 L782.5 701.7 L786.0 705.0 L791.0 697.0 L795.0 705.0 L798.3 702.1 L801.7 704.5 L805.0 703.0 L808.3 703.7 L811.7 701.0 L815.0 706.0 L818.3 703.4 L821.7 702.8 L825.0 701.0 L828.3 701.5 L831.7 701.1 L835.0 704.0 L838.3 703.6 L841.7 703.3 L845.0 702.0 L848.3 700.8 L851.7 700.8 L855.0 705.0 L858.3 706.1 L861.7 703.3 L865.0 701.0 L868.3 702.6 L871.7 702.0 L875.0 704.0 L878.3 701.3 L881.7 700.7 L885.0 701.0"/>
<path stroke="#FFF899" d="M211.0 654.0 L216.0 671.0 L219.0 667.5 L222.0 664.0 L226.0 671.0 L229.0 708.0 L232.0 711.9 L235.0 713.6 L238.0 715.0 L241.0 713.8 L244.0 715.8 L247.0 715.1 L250.0 716.0 L255.0 710.0 L258.0 707.5 L261.0 708.9 L264.0 708.0 L267.0 706.0 L270.0 707.0 L275.0 710.0 L278.0 705.0 L281.0 698.0 L284.0 703.5 L287.0 707.0 L290.5 703.6 L294.0 703.0 L297.0 699.3 L300.0 706.0 L303.0 705.1 L306.0 708.0 L309.5 704.4 L313.0 705.0 L316.5 702.0 L320.0 707.0 L324.0 706.3 L328.0 705.0 L331.0 701.0 L334.0 702.0 L337.0 703.1 L340.0 706.0 L343.3 706.8 L346.7 703.1 L350.0 700.0 L353.3 702.0 L356.7 703.2 L360.0 704.0 L363.3 704.7 L366.7 701.3 L370.0 702.0 L373.3 700.6 L376.7 703.4 L380.0 705.0 L383.3 705.8 L386.7 701.8 L390.0 701.0 L393.3 702.4 L396.7 702.1 L400.0 703.0 L405.0 699.0 L410.0 703.0 L413.3 703.6 L416.7 704.4 L420.0 706.0 L425.0 709.0 L430.0 703.0 L433.3 704.1 L436.7 699.5 L440.0 701.0 L443.0 700.4 L446.0 696.0 L449.0 664.0 L454.0 640.0 L458.0 627.3 L462.0 616.0 L465.0 604.8 L468.0 592.0 L473.0 590.0 L477.0 603.0 L480.0 600.4 L483.0 597.0 L486.0 596.0 L490.0 607.0 L494.0 605.3 L498.0 603.0 L502.0 602.1 L506.0 599.0 L509.7 597.1 L513.4 597.6 L517.0 594.8 L520.7 594.0 L524.1 588.9 L527.5 585.5 L530.9 581.0 L535.0 556.0 L538.1 525.0 L541.2 490.0 L542.8 480.0 L544.2 494.0 L548.4 504.1 L552.5 512.4 L556.1 519.3 L559.8 526.0 L563.9 530.9 L568.0 535.3 L572.1 539.6 L576.3 541.7 L579.2 541.7 L582.1 542.2 L585.0 544.5 L588.3 544.7 L591.7 545.2 L595.0 546.0 L598.3 547.4 L601.7 547.3 L605.0 547.0 L608.5 546.2 L612.0 545.0 L617.0 548.0 L619.0 554.0 L621.0 600.0 L624.0 625.0 L627.0 640.0 L631.0 654.0 L634.8 656.9 L638.5 656.6 L642.2 659.3 L646.0 663.0 L649.5 660.1 L653.0 659.0 L656.0 658.2 L659.0 659.3 L662.0 660.7 L665.0 661.0 L668.0 664.3 L671.0 667.9 L674.0 670.0 L677.5 663.7 L681.0 656.0 L685.0 665.0 L688.0 666.5 L691.0 667.0 L694.0 666.4 L697.0 667.0 L700.7 667.6 L704.3 669.3 L708.0 670.0 L711.0 670.4 L714.0 674.2 L717.0 675.7 L720.0 675.0 L723.0 672.9 L726.0 673.0 L729.0 672.0 L733.0 675.3 L737.0 679.0 L741.0 688.5 L745.0 695.0 L748.0 702.8 L751.0 708.0 L754.5 709.4 L758.0 709.0 L761.5 706.8 L765.0 708.8 L768.5 708.9 L772.0 708.0 L775.5 710.4 L779.0 705.1 L782.5 707.0 L786.0 708.0 L791.0 700.0 L795.0 708.0 L798.3 705.3 L801.7 709.1 L805.0 706.0 L808.3 707.7 L811.7 709.0 L815.0 709.0 L818.3 709.1 L821.7 706.1 L825.0 704.0 L828.3 703.8 L831.7 704.7 L835.0 707.0 L838.3 707.4 L841.7 708.4 L845.0 705.0 L848.3 704.1 L851.7 704.8 L855.0 708.0 L858.3 709.0 L861.7 703.8 L865.0 704.0 L868.3 705.8 L871.7 705.9 L875.0 707.0 L878.3 705.0 L881.7 702.5 L885.0 704.0"/>
<path stroke="#C0D8FF" d="M211.0 654.0 L216.0 671.0 L219.0 666.5 L222.0 664.0 L226.0 671.0 L229.0 708.0 L232.0 708.9 L235.0 713.9 L238.0 715.0 L241.0 716.1 L244.0 715.7 L247.0 714.1 L250.0 716.0 L255.0 710.0 L258.0 707.0 L261.0 708.2 L264.0 708.0 L267.0 706.4 L270.0 707.0 L275.0 710.0 L278.0 702.9 L281.0 698.0 L284.0 704.4 L287.0 707.0 L290.5 703.5 L294.0 703.0 L297.0 701.9 L300.0 706.0 L303.0 706.1 L306.0 708.0 L309.5 705.2 L313.0 705.0 L316.5 705.9 L320.0 707.0 L324.0 705.0 L328.0 705.0 L331.0 701.0 L334.0 703.2 L337.0 708.1 L340.0 706.0 L343.3 704.2 L346.7 702.8 L350.0 700.0 L353.3 703.0 L356.7 704.3 L360.0 704.0 L363.3 704.3 L366.7 702.9 L370.0 702.0 L373.3 700.7 L376.7 702.0 L380.0 705.0 L383.3 706.1 L386.7 702.4 L390.0 701.0 L393.3 703.1 L396.7 702.6 L400.0 703.0 L405.0 699.0 L410.0 703.0 L413.3 707.3 L416.7 702.1 L420.0 706.0 L425.0 709.0 L430.0 703.0 L433.3 704.2 L436.7 701.2 L440.0 701.0 L443.0 699.6 L446.0 696.0 L449.0 665.0 L454.0 641.0 L458.0 628.4 L462.0 617.0 L465.0 605.1 L468.0 593.0 L473.0 591.0 L477.0 604.0 L480.0 600.3 L483.0 598.0 L486.0 597.0 L490.0 608.0 L494.0 604.6 L498.0 604.0 L502.0 603.0 L506.0 602.0 L509.7 601.6 L513.4 601.7 L517.0 601.0 L520.7 599.0 L524.1 597.4 L527.5 593.9 L530.9 592.0 L533.5 586.1 L536.0 580.0 L539.1 558.0 L541.2 532.4 L543.2 525.2 L546.9 533.4 L550.6 540.0 L553.7 541.1 L556.7 543.0 L559.8 543.6 L563.9 545.1 L568.0 546.3 L572.1 545.9 L576.3 545.0 L579.2 544.6 L582.1 542.5 L585.0 541.0 L588.3 540.0 L591.7 539.2 L595.0 538.0 L598.3 537.6 L601.7 537.9 L605.0 536.0 L608.5 534.7 L612.0 533.0 L617.0 537.0 L619.0 548.5 L621.0 600.0 L624.0 625.0 L627.0 640.0 L631.0 650.0 L634.8 653.0 L638.5 653.4 L642.2 656.7 L646.0 659.0 L649.5 657.5 L653.0 655.0 L656.0 655.3 L659.0 654.7 L662.0 657.0 L665.0 657.0 L668.0 660.6 L671.0 662.1 L674.0 666.0 L677.5 660.1 L681.0 652.0 L685.0 661.0 L688.0 661.9 L691.0 661.7 L694.0 660.9 L697.0 663.0 L700.7 665.0 L704.3 663.2 L708.0 666.0 L711.0 666.4 L714.0 669.0 L717.0 671.4 L720.0 671.0 L723.0 668.8 L726.0 668.1 L729.0 668.0 L733.0 671.0 L737.0 675.0 L741.0 684.6 L745.0 691.0 L748.0 698.8 L751.0 704.0 L754.5 704.9 L758.0 705.0 L761.5 703.0 L765.0 705.4 L768.5 702.9 L772.0 704.0 L775.5 705.2 L779.0 697.9 L782.5 702.3 L786.0 704.0 L791.0 696.0 L795.0 704.0 L798.3 700.5 L801.7 705.1 L805.0 702.0 L808.3 702.8 L811.7 707.9 L815.0 705.0 L818.3 702.5 L821.7 702.0 L825.0 700.0 L828.3 701.1 L831.7 700.9 L835.0 703.0 L838.3 701.8 L841.7 703.7 L845.0 701.0 L848.3 698.5 L851.7 702.5 L855.0 704.0 L858.3 703.9 L861.7 700.1 L865.0 700.0 L868.3 700.1 L871.7 702.2 L875.0 703.0 L878.3 700.3 L881.7 699.5 L885.0 700.0"/>
<path stroke="#FFCB7D" d="M211.0 653.0 L216.0 670.0 L219.0 665.9 L222.0 663.0 L226.0 670.0 L229.0 707.0 L232.0 709.1 L235.0 711.2 L238.0 714.0 L241.0 713.3 L244.0 715.9 L247.0 715.3 L250.0 715.0 L255.0 709.0 L258.0 708.8 L261.0 707.4 L264.0 707.0 L267.0 704.7 L270.0 706.0 L275.0 709.0 L278.0 704.8 L281.0 697.0 L284.0 703.4 L287.0 706.0 L290.5 704.3 L294.0 702.0 L297.0 703.6 L300.0 705.0 L303.0 704.1 L306.0 707.0 L309.5 704.2 L313.0 704.0 L316.5 710.4 L320.0 706.0 L324.0 703.8 L328.0 704.0 L331.0 700.0 L334.0 701.9 L337.0 702.7 L340.0 705.0 L343.3 705.8 L346.7 699.8 L350.0 699.0 L353.3 701.7 L356.7 703.6 L360.0 703.0 L363.3 701.7 L366.7 701.8 L370.0 701.0 L373.3 700.2 L376.7 704.1 L380.0 704.0 L383.3 702.1 L386.7 700.0 L390.0 700.0 L393.3 699.9 L396.7 701.9 L400.0 702.0 L405.0 698.0 L410.0 702.0 L413.3 702.2 L416.7 701.8 L420.0 705.0 L425.0 708.0 L430.0 702.0 L433.3 701.6 L436.7 700.4 L440.0 700.0 L443.0 698.0 L446.0 695.0 L449.0 663.0 L454.0 639.0 L458.0 626.5 L462.0 615.0 L465.0 603.2 L468.0 591.0 L473.0 589.0 L477.0 602.0 L480.0 597.6 L483.0 596.0 L486.0 595.0 L490.0 606.0 L494.0 603.1 L498.0 602.0 L502.0 599.1 L506.0 598.0 L509.7 594.7 L513.4 595.5 L517.0 593.6 L520.7 591.7 L524.1 587.9 L527.5 583.1 L530.9 578.4 L535.0 552.8 L538.1 522.1 L541.2 481.2 L543.2 465.8 L546.0 480.0 L550.0 500.0 L555.0 515.0 L560.0 525.0 L564.0 531.0 L568.0 534.0 L571.5 536.8 L575.0 540.0 L578.3 542.1 L581.7 542.6 L585.0 544.0 L588.3 544.8 L591.7 544.5 L595.0 546.0 L598.3 546.7 L601.7 546.5 L605.0 547.0 L608.5 546.3 L612.0 547.0 L617.0 550.0 L619.0 555.0 L621.0 600.0 L624.0 625.0 L627.0 640.0 L631.0 652.0 L634.8 654.5 L638.5 656.5 L642.2 657.8 L646.0 661.0 L649.5 658.8 L653.0 657.0 L656.0 657.7 L659.0 656.3 L662.0 657.0 L665.0 659.0 L668.0 663.3 L671.0 664.4 L674.0 668.0 L677.5 661.8 L681.0 654.0 L685.0 663.0 L688.0 664.9 L691.0 663.1 L694.0 664.3 L697.0 665.0 L700.7 666.1 L704.3 666.5 L708.0 668.0 L711.0 668.3 L714.0 670.4 L717.0 672.8 L720.0 673.0 L723.0 670.6 L726.0 670.3 L729.0 670.0 L733.0 673.5 L737.0 677.0 L741.0 686.6 L745.0 693.0 L748.0 699.7 L751.0 706.0 L754.5 706.4 L758.0 707.0 L761.5 704.9 L765.0 709.1 L768.5 707.2 L772.0 706.0 L775.5 706.7 L779.0 703.1 L782.5 703.6 L786.0 706.0 L791.0 698.0 L795.0 706.0 L798.3 704.1 L801.7 706.4 L805.0 704.0 L808.3 704.8 L811.7 704.8 L815.0 707.0 L818.3 704.5 L821.7 705.7 L825.0 702.0 L828.3 704.5 L831.7 702.0 L835.0 705.0 L838.3 705.3 L841.7 705.9 L845.0 703.0 L848.3 702.7 L851.7 702.8 L855.0 706.0 L858.3 706.4 L861.7 704.0 L865.0 702.0 L868.3 702.3 L871.7 704.4 L875.0 705.0 L878.3 702.3 L881.7 696.1 L885.0 702.0"/>
</g></svg>
<div class="t" id="title"><span style="left:0.4px">C</span><span style="left:34.3px">e</span><span style="left:61.4px">l</span><span style="left:73.4px">l</span><span style="left:85.5px;transform:translateY(-6.3px) scaleX(0.8);transform-origin:0 0;z-index:2">_</span><span style="left:101.6px">1</span><i style="position:absolute;left:98px;top:33.8px;width:14.2px;height:6.5px;background:#111217;z-index:1"></i><i style="position:absolute;left:118.2px;top:33.8px;width:12px;height:6.5px;background:#111217;z-index:1"></i></div>
<div class="yl" style="top:268.9px">3.6 V</div>
<div class="yl" style="top:398.2px">3.5 V</div>
<div class="yl" style="top:527.5px">3.4 V</div>
<div class="yl" style="top:656.7px">3.3 V</div>
<div class="yl" style="top:785.9px">3.2 V</div>
<div class="yl" style="top:915.2px">3.1 V</div>
<div class="yl" style="top:1044.5px">3 V</div>
<div class="yl" style="top:1173.7px">2.9 V</div>
<div class="yl" style="top:1303.0px">2.8 V</div>
<div class="xl" style="left:299.5px;top:1469.5px">03/03 00:00</div>
<div class="xl" style="left:750.5px;top:1469.5px">03/04 00:00</div>
<div class="sw" style="left:94px;top:1565px;background:#73BF69"></div>
<div class="ll" style="left:163.0px;top:1550px">1</div>
<div class="sw" style="left:214px;top:1565px;background:#F2CC0C"></div>
<div class="ll" style="left:286.5px;top:1550px">2</div>
<div class="sw" style="left:341.5px;top:1565px;background:#5794F2"></div>
<div class="ll" style="left:414.5px;top:1550px">3</div>
<div class="sw" style="left:471px;top:1565px;background:#FF9830"></div>
<div class="ll" style="left:543.7px;top:1550px">4</div>
<div class="sw" style="left:601px;top:1565px;background:#F2495C"></div>
<div class="ll" style="left:672.2px;top:1550px">5</div>
<div class="sw" style="left:729px;top:1565px;background:#B877D9"></div>
<div class="ll" style="left:799.8px;top:1550px">6</div>
<div class="sw" style="left:857px;top:1565px;background:#37872D"></div>
<div class="ll" style="left:927.8px;top:1550px">7</div>
<div class="sw" style="left:984px;top:1565px;background:#E0B400"></div>
<div class="ll" style="left:1054.8px;top:1550px">8</div>
<div class="sw" style="left:94px;top:1641px;background:#1F60C4"></div>
<div class="ll" style="left:165.0px;top:1626px">9</div>
<div class="sw" style="left:223px;top:1641px;background:#FA6400"></div>
<div class="ll" style="left:291.0px;top:1626px;width:46.0px;height:44px"><span style="position:absolute;left:0">1</span><span style="position:absolute;left:20.0px">0</span></div>
<div class="sw" style="left:368px;top:1641px;background:#C4162A"></div>
<div class="ll" style="left:436.0px;top:1626px;width:38.0px;height:44px"><span style="position:absolute;left:0">1</span><span style="position:absolute;left:19.0px">1</span></div>
<div class="sw" style="left:504.5px;top:1641px;background:#8F3BB8"></div>
<div class="ll" style="left:573.0px;top:1626px;width:44.5px;height:44px"><span style="position:absolute;left:0">1</span><span style="position:absolute;left:19.0px">2</span></div>
<div class="sw" style="left:649px;top:1641px;background:#C8F2C2"></div>
<div class="ll" style="left:718.0px;top:1626px;width:44.8px;height:44px"><span style="position:absolute;left:0">1</span><span style="position:absolute;left:19.0px">3</span></div>
<div class="sw" style="left:794px;top:1641px;background:#FFF899"></div>
<div class="ll" style="left:862.0px;top:1626px;width:46.6px;height:44px"><span style="position:absolute;left:0">1</span><span style="position:absolute;left:20.0px">4</span></div>
<div class="sw" style="left:940px;top:1641px;background:#C0D8FF"></div>
<div class="ll" style="left:1007.0px;top:1626px;width:46.0px;height:44px"><span style="position:absolute;left:0">1</span><span style="position:absolute;left:20.0px">5</span></div>
<div class="sw" style="left:94px;top:1716.5px;background:#FFCB7D"></div>
<div class="ll" style="left:161.0px;top:1701.5px;width:47.5px;height:44px"><span style="position:absolute;left:0">1</span><span style="position:absolute;left:21.0px">6</span></div>
<i class="cv" style="left:166.0px;top:1580.8px;width:7.95px"></i><i class="cv" style="left:178.3px;top:1580.8px;width:8.5px"></i>
<i class="cv" style="left:294.0px;top:1656.8px;width:7.95px"></i><i class="cv" style="left:306.3px;top:1656.8px;width:8.5px"></i>
<i class="cv" style="left:439.0px;top:1656.8px;width:7.95px"></i><i class="cv" style="left:451.3px;top:1656.8px;width:8.5px"></i>
<i class="cv" style="left:458.0px;top:1656.8px;width:7.95px"></i><i class="cv" style="left:470.3px;top:1656.8px;width:8.5px"></i>
<i class="cv" style="left:576.0px;top:1656.8px;width:7.95px"></i><i class="cv" style="left:588.3px;top:1656.8px;width:8.5px"></i>
<i class="cv" style="left:721.0px;top:1656.8px;width:7.95px"></i><i class="cv" style="left:733.3px;top:1656.8px;width:8.5px"></i>
<i class="cv" style="left:865.0px;top:1656.8px;width:7.95px"></i><i class="cv" style="left:877.3px;top:1656.8px;width:8.5px"></i>
<i class="cv" style="left:1010.0px;top:1656.8px;width:7.95px"></i><i class="cv" style="left:1022.3px;top:1656.8px;width:8.5px"></i>
<i class="cv" style="left:164.0px;top:1732.3px;width:7.95px"></i><i class="cv" style="left:176.3px;top:1732.3px;width:8.5px"></i>
</body></html>
